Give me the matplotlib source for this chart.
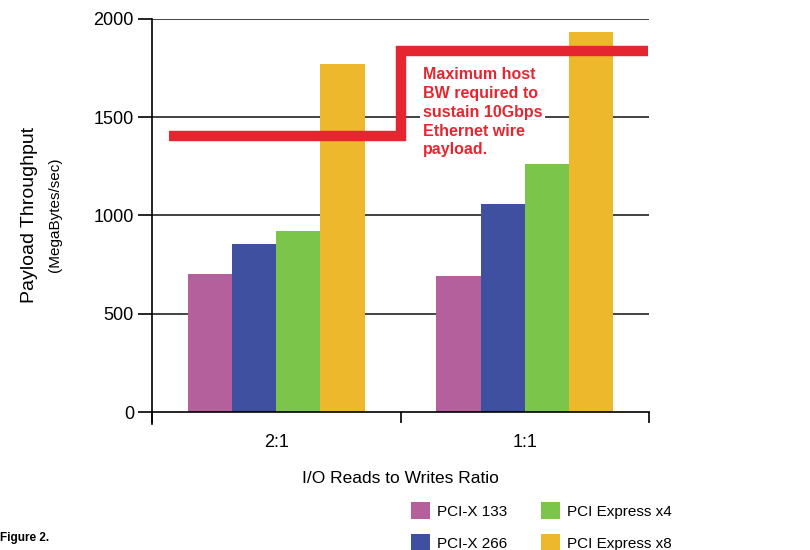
import numpy as np
import matplotlib.pyplot as plt
from matplotlib.patches import Patch

# data
ratios = ["2:1", "1:1"]
series = ["PCI-X 133", "PCI-X 266", "PCI Express x4", "PCI Express x8"]
pcix133 = [702, 692]
pcix266 = [855, 1058]
pcie_x4 = [921, 1262]
pcie_x8 = [1770, 1934]
# max host BW step line (x in category units, y in MB/s)
bw_x = [0.07, 1.0, 1.0, 1.995]
bw_y = [1405, 1405, 1837, 1837]

colors = ['#B3609C', '#4050A0', '#7CC54B', '#EDB82B']
red = '#E52631'
font = 'Liberation Sans'
plt.rcParams['font.family'] = [font, 'DejaVu Sans']

fig = plt.figure(figsize=(8.1, 5.5), dpi=100)
ax = fig.add_axes([0.1877, 0.2509, 0.6135, 0.7146])

centers = np.array([0.5, 1.5])
w = 0.178
values = [pcix133, pcix266, pcie_x4, pcie_x8]
for i, (vals, c) in enumerate(zip(values, colors)):
    ax.bar(centers + (i - 1.5) * w, vals, width=w, color=c, zorder=2, linewidth=0)

# horizontal grid lines
for yv in [500, 1000, 1500, 2000]:
    ax.axhline(yv, color='#222222', linewidth=1.2, zorder=1)

ax.plot(bw_x, bw_y, color=red, linewidth=7.5, solid_capstyle='butt',
        solid_joinstyle='miter', zorder=4)

ax.text(1.09, 1755, "Maximum host\nBW required to\nsustain 10Gbps\nEthernet wire\npayload.",
        color=red, fontsize=11.5, fontweight='bold', va='top', ha='left',
        linespacing=1.32, zorder=5,
        bbox=dict(facecolor='white', edgecolor='none', pad=2))

ax.set_xlim(0, 2)
ax.set_ylim(0, 2000)
ax.set_yticks([0, 500, 1000, 1500, 2000])
ax.set_yticklabels(['0', '500', '1000', '1500', '2000'], fontsize=13)
ax.set_xticks([0, 1, 2])
ax.set_xticklabels([])
ax.set_xticks(centers, minor=True)
ax.set_xticklabels(ratios, minor=True, fontsize=13)
ax.tick_params(axis='x', which='minor', length=0, pad=16)
ax.tick_params(axis='x', which='major', direction='out', length=8, width=1.2)
ax.tick_params(axis='y', direction='out', length=10, width=1.2, pad=3)

for s in ['top', 'right']:
    ax.spines[s].set_visible(False)
ax.spines['left'].set_linewidth(1.2)
ax.spines['bottom'].set_linewidth(1.2)
# left spine runs a bit below zero
ax.plot([0, 0], [0, -0.03], transform=ax.transAxes, color='black',
        linewidth=1.2, clip_on=False)

ax.set_xlabel("I/O Reads to Writes Ratio", fontsize=12.5, labelpad=14)

fig.text(0.036, 0.61, "Payload Throughput", rotation=90, fontsize=14,
         ha='center', va='center')
fig.text(0.068, 0.61, "(MegaBytes/sec)", rotation=90, fontsize=11,
         ha='center', va='center')

handles = [Patch(facecolor=c, edgecolor='none') for c in colors]
fig.legend(handles, series,
           ncol=2, loc='upper left', bbox_to_anchor=(0.508, 0.088),
           frameon=False, fontsize=11, handlelength=1.2, handleheight=1.4,
           columnspacing=2.2, handletextpad=0.5, labelspacing=0.95,
           borderaxespad=0, borderpad=0)

fig.text(0.0, 0.022, "Figure 2.", fontsize=8.5, fontweight='bold',
         ha='left', va='center')

fig.savefig('out.png', dpi=100)
